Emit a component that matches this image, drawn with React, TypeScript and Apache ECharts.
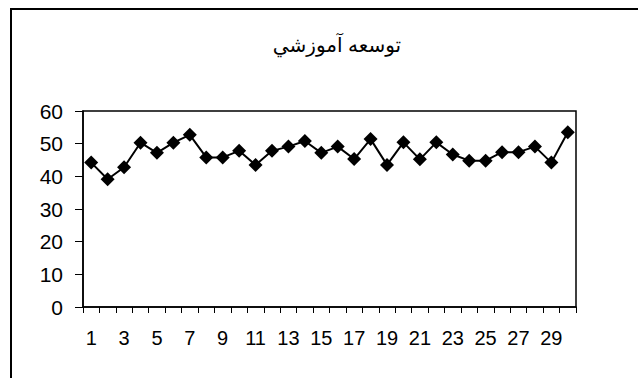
import React, { useEffect, useRef } from "react";
import * as echarts from "echarts";

const titleText = "توسعه آموزشي";
const categories = Array.from({ length: 30 }, (_, i) => String(i + 1));
const values = [
  44.2, 39.1, 42.8, 50.3, 47.2, 50.3, 52.7, 45.8, 45.8, 47.8,
  43.5, 47.8, 49.1, 50.8, 47.2, 49.1, 45.3, 51.4, 43.5, 50.4,
  45.2, 50.4, 46.7, 44.8, 44.8, 47.4, 47.4, 49.1, 44.2, 53.5,
];
const yMin = 0;
const yMax = 60;
const yInterval = 10;

export default function App() {
  const ref = useRef<HTMLDivElement>(null);
  useEffect(() => {
    if (!ref.current) return;
    const chart = echarts.init(ref.current, undefined, { renderer: "svg" });
    const font = "Arial, 'Liberation Sans', 'DejaVu Sans', sans-serif";
    chart.setOption({
      animation: false,
      backgroundColor: "#fff",
      title: {
        text: titleText,
        left: 332,
        top: 30,
        textAlign: "center",
        textStyle: { fontFamily: font, fontSize: 20, fontWeight: "normal", color: "#000" },
      },
      graphic: [
        {
          type: "polyline",
          shape: { points: [[11, 400], [11, 9], [640, 9]] },
          style: { stroke: "#000", lineWidth: 2, fill: "none" },
          silent: true,
        },
      ],
      grid: {
        left: 83,
        right: 62,
        top: 111,
        bottom: 71,
        show: true,
        borderColor: "#000",
        borderWidth: 1.5,
        backgroundColor: "transparent",
      },
      xAxis: {
        type: "category",
        data: categories,
        boundaryGap: true,
        axisLine: { lineStyle: { color: "#000", width: 1.5 } },
        axisTick: { show: true, alignWithLabel: false, interval: 0, length: 6, lineStyle: { color: "#000" } },
        axisLabel: {
          interval: 1,
          color: "#000",
          fontFamily: font,
          fontSize: 20,
          margin: 21,
        },
        splitLine: { show: false },
      },
      yAxis: {
        type: "value",
        min: yMin,
        max: yMax,
        interval: yInterval,
        axisLine: { show: true, lineStyle: { color: "#000", width: 1.5 } },
        axisTick: { show: true, length: 8, lineStyle: { color: "#000" } },
        axisLabel: { color: "#000", fontFamily: font, fontSize: 21, margin: 20 },
        splitLine: { show: false },
      },
      series: [
        {
          type: "line",
          data: values,
          symbol: "diamond",
          symbolSize: 14,
          showAllSymbol: true,
          lineStyle: { color: "#000", width: 2 },
          itemStyle: { color: "#000" },
        },
      ],
    });
    return () => chart.dispose();
  }, []);
  return (
    <div
      ref={ref}
      style={{ position: "fixed", left: 0, top: 0, width: 638, height: 378 }}
    />
  );
}
